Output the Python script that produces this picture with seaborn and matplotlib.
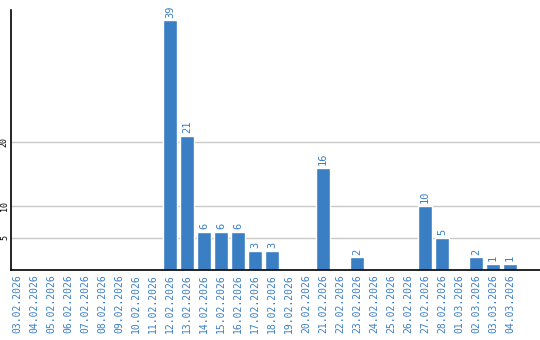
import matplotlib
matplotlib.use("Agg")
import matplotlib.pyplot as plt
import seaborn as sns
import pandas as pd

dates = ["03.02.2026", "04.02.2026", "05.02.2026", "06.02.2026", "07.02.2026",
         "08.02.2026", "09.02.2026", "10.02.2026", "11.02.2026", "12.02.2026",
         "13.02.2026", "14.02.2026", "15.02.2026", "16.02.2026", "17.02.2026",
         "18.02.2026", "19.02.2026", "20.02.2026", "21.02.2026", "22.02.2026",
         "23.02.2026", "24.02.2026", "25.02.2026", "26.02.2026", "27.02.2026",
         "28.02.2026", "01.03.2026", "02.03.2026", "03.03.2026", "04.03.2026"]
values = [0, 0, 0, 0, 0, 0, 0, 0, 0, 39,
          21, 6, 6, 6, 3, 3, 0, 0, 16, 0,
          2, 0, 0, 0, 10, 5, 0, 2, 1, 1]
y_ticks = [5, 10, 20]

BLUE = "#3a7ec4"

sns.set_style("white")
plt.rcParams['font.family'] = ['DejaVu Sans Mono', 'DejaVu Sans']

df = pd.DataFrame({"date": dates, "value": values})

fig = plt.figure(figsize=(5.4, 3.4), dpi=100)
ax = fig.add_axes([11/540, 70/340, 529/540, 260/340])
sns.barplot(data=df, x="date", y="value", color=BLUE, saturation=1,
            width=0.82, ax=ax, zorder=3)

ax.set_xlim(-0.35, 30.76)
ax.set_ylim(0, 40.6)
ax.set_yticks(y_ticks)
ax.set_yticklabels([str(t) for t in y_ticks], rotation=90, fontsize=6,
                   color="black", va="center")
ax.tick_params(axis="y", length=0, pad=1.5)
ax.tick_params(axis="x", length=0, pad=3)
ax.set_xticks(range(len(dates)))
ax.set_xticklabels(dates, rotation=90, fontsize=7, color=BLUE)
ax.grid(axis="y", color="#c8c8c8", linewidth=1, zorder=0)
ax.set_axisbelow(True)
ax.set_xlabel("")
ax.set_ylabel("")
for s in ["top", "right"]:
    ax.spines[s].set_visible(False)
for s in ["left", "bottom"]:
    ax.spines[s].set_color("black")
    ax.spines[s].set_linewidth(1.2)
    ax.spines[s].set_zorder(5)

for i, v in enumerate(values):
    if v > 0:
        ax.text(i, v + 0.4, str(v), rotation=90, ha="center", va="bottom",
                fontsize=7.5, color=BLUE)

fig.savefig("out.png", dpi=100)
